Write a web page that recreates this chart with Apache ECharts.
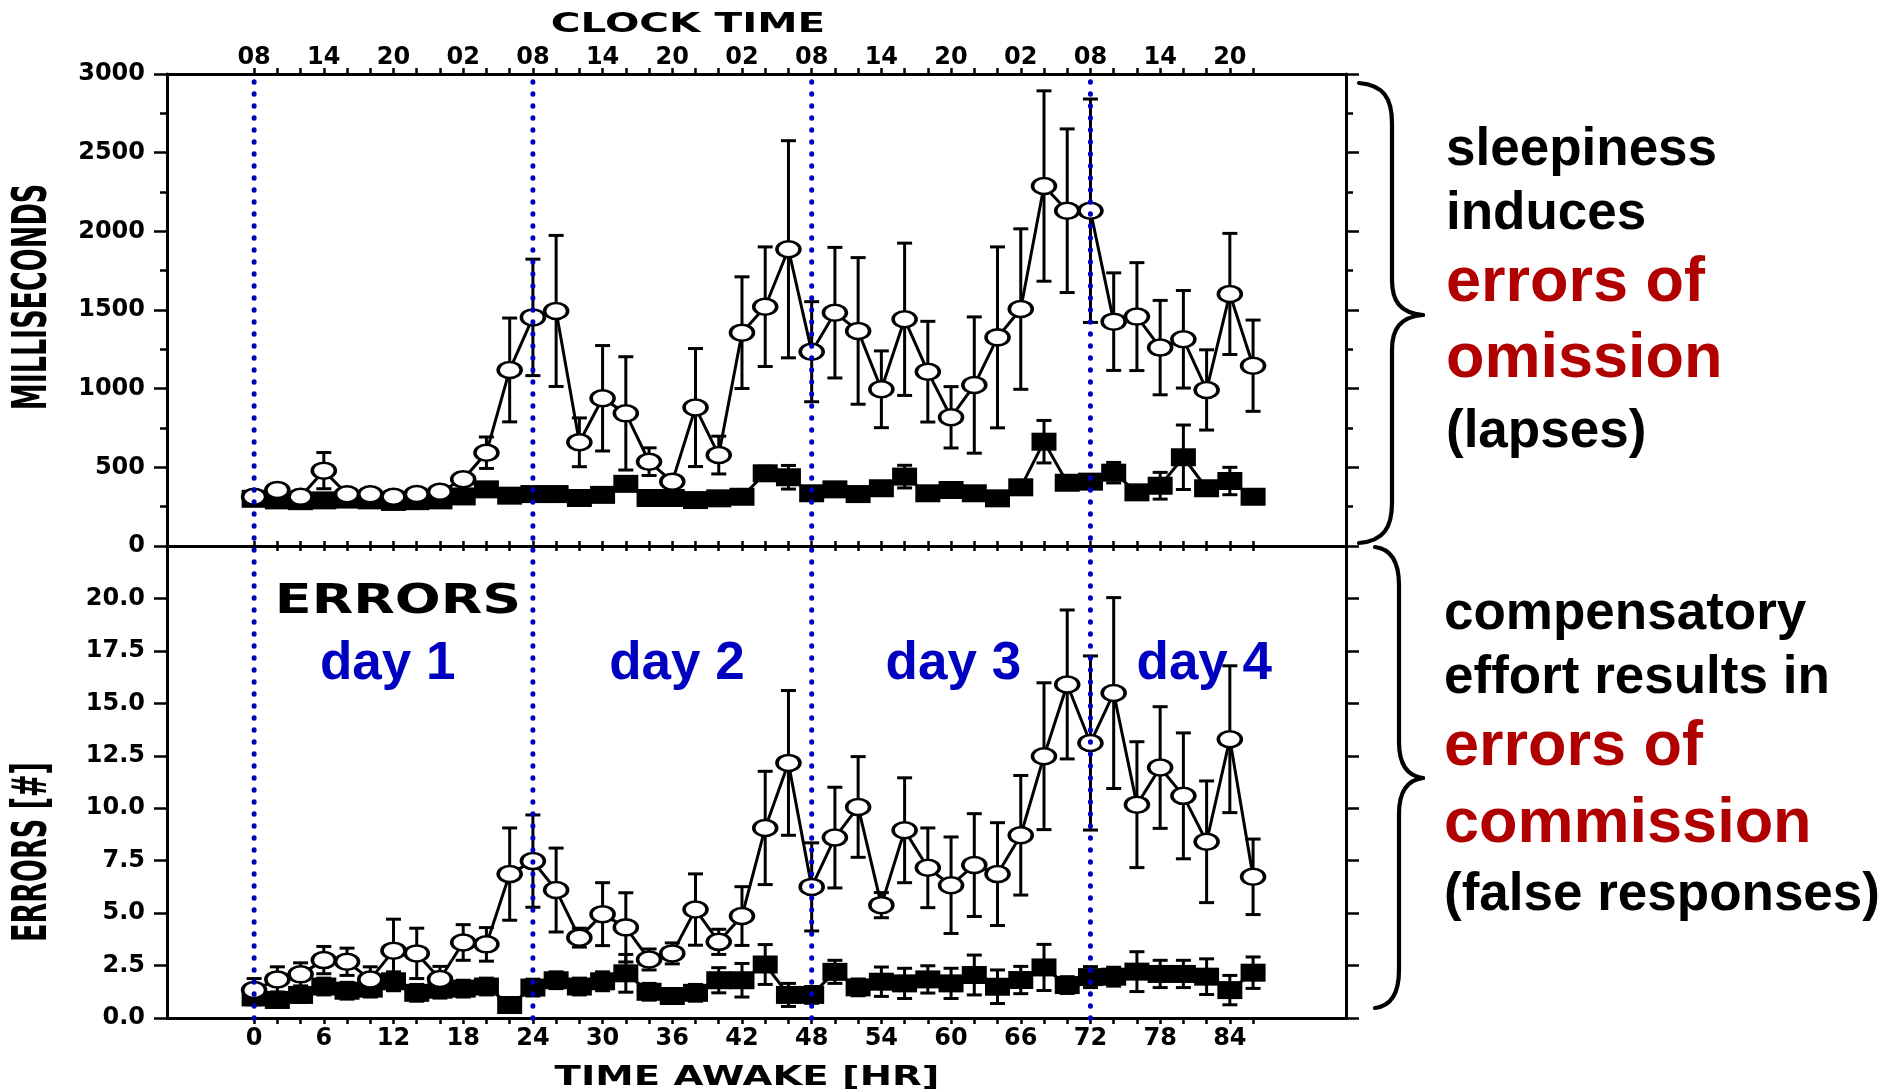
<!DOCTYPE html>
<html>
<head>
<meta charset="utf-8">
<script src="https://cdn.jsdelivr.net/npm/echarts@6/dist/echarts.min.js"></script>
<style>
  html, body { margin: 0; padding: 0; background: #ffffff; }
  #chart { width: 1884px; height: 1090px; }
</style>
</head>
<body>
<div id="chart"></div>
<script>
// Hours of continuous wakefulness at which each test was given
const hoursAwake = [0, 2, 4, 6, 8, 10, 12, 14, 16, 18, 20, 22, 24, 26, 28, 30, 32, 34, 36, 38, 40, 42,
                    44, 46, 48, 50, 52, 54, 56, 58, 60, 62, 64, 66, 68, 70, 72, 74, 76, 78, 80, 82, 84, 86];

// Bottom axis labels (hours awake) and top axis labels (clock time at those hours)
const awakeTickHours = [0, 6, 12, 18, 24, 30, 36, 42, 48, 54, 60, 66, 72, 78, 84];
const clockTickLabels = ['08', '14', '20', '02', '08', '14', '20', '02', '08', '14', '20', '02', '08', '14', '20'];
const minorTickHours = [0, 2, 4, 6, 8, 10, 12, 14, 16, 18, 20, 22, 24, 26, 28, 30, 32, 34, 36, 38, 40, 42,
                        44, 46, 48, 50, 52, 54, 56, 58, 60, 62, 64, 66, 68, 70, 72, 74, 76, 78, 80, 82, 84, 86];

// Upper panel (milliseconds): open circles and filled squares, mean and SEM
const openMs = [313, 356, 313, 479, 329, 329, 313, 330, 345, 424, 593, 1119, 1453, 1494, 659, 939, 843, 536,
                409, 880, 578, 1356, 1521, 1886, 1235, 1483, 1367, 996, 1441, 1108, 818, 1023, 1326, 1506,
                2288, 2131, 2131, 1426, 1458, 1261, 1314, 992, 1602, 1146];
const openMsSem = [30, 40, 30, 115, 30, 30, 30, 30, 30, 40, 100, 330, 370, 480, 155, 335, 360, 88,
                   40, 375, 120, 355, 380, 690, 318, 415, 466, 244, 484, 320, 195, 433, 575, 510,
                   605, 520, 710, 310, 343, 300, 310, 255, 385, 290];
const filledMs = [300, 290, 285, 290, 295, 290, 280, 285, 290, 315, 360, 320, 330, 330, 305, 325, 395, 305,
                  305, 292, 303, 313, 462, 437, 335, 360, 330, 367, 441, 335, 356, 335, 303, 373,
                  663, 402, 409, 466, 341, 383, 564, 367, 413, 313];
const filledMsSem = [25, 25, 25, 25, 25, 25, 25, 25, 25, 25, 35, 25, 25, 25, 25, 25, 30, 25,
                     25, 25, 25, 25, 45, 75, 25, 30, 25, 25, 72, 25, 25, 25, 25, 25,
                     135, 25, 30, 65, 25, 85, 205, 25, 87, 25];

// Lower panel (number of errors): open circles and filled squares, mean and SEM
const openErrors = [1.33, 1.84, 2.08, 2.76, 2.68, 1.84, 3.21, 3.08, 1.86, 3.60, 3.51, 6.86, 7.48, 6.10, 3.83,
                    4.95, 4.32, 2.79, 3.08, 5.17, 3.63, 4.86, 9.06, 12.16, 6.25, 8.60, 10.06, 5.38, 8.95,
                    7.16, 6.33, 7.29, 6.86, 8.71, 12.48, 15.90, 13.11, 15.49, 10.17, 11.94, 10.59, 8.40,
                    13.29, 6.73];
const openErrorsSem = [0.55, 0.6, 0.55, 0.65, 0.65, 0.6, 1.5, 1.2, 0.6, 0.85, 0.8, 2.2, 2.2, 2.0, 0.45,
                       1.5, 1.65, 0.5, 0.5, 1.7, 0.6, 1.4, 2.7, 3.45, 2.1, 2.4, 2.4, 0.6, 2.5,
                       1.9, 2.3, 2.45, 2.45, 2.85, 3.5, 3.55, 4.15, 4.55, 3.0, 2.9, 3.0, 2.9,
                       3.5, 1.8];
const filledErrors = [0.98, 0.86, 1.10, 1.50, 1.30, 1.40, 1.75, 1.20, 1.35, 1.40, 1.50, 0.62, 1.45, 1.80, 1.50,
                      1.75, 2.13, 1.25, 1.05, 1.20, 1.80, 1.80, 2.55, 1.10, 1.10, 2.20, 1.46, 1.73, 1.65,
                      1.84, 1.65, 2.05, 1.49, 1.81, 2.41, 1.57, 1.95, 1.97, 2.21, 2.10, 2.10, 1.97,
                      1.33, 2.16];
const filledErrorsSem = [0.35, 0.35, 0.35, 0.4, 0.4, 0.4, 0.45, 0.4, 0.4, 0.4, 0.4, 0.3, 0.4, 0.4, 0.4,
                         0.45, 0.9, 0.4, 0.35, 0.4, 0.6, 0.8, 0.95, 0.55, 0.4, 0.55, 0.4, 0.7, 0.72,
                         0.65, 0.72, 0.95, 0.8, 0.65, 1.1, 0.4, 0.5, 0.45, 0.95, 0.65, 0.65, 0.85,
                         0.7, 0.75];

// Day boundaries (08:00 each morning) and day captions
const dayBoundaryHours = [0, 24, 48, 72];
const dayCaptions = ['day 1', 'day 2', 'day 3', 'day 4'];
const dayCaptionHours = [11.5, 36.4, 60.2, 81.8];

const chart = echarts.init(document.getElementById('chart'), null, { renderer: 'canvas' });

const BLACK = '#000000';
const BLUE = '#0000c0';
const RED = '#b00000';
const tickFont = { fontFamily: 'DejaVu Sans', fontWeight: 'bold', fontSize: 24, color: BLACK };
const X_MIN = -7.5, X_MAX = 94;

function meanSemRows(mean, sem) {
  return hoursAwake.map((h, i) => [h, mean[i] - sem[i], mean[i] + sem[i]]);
}
function pairs(values) {
  return hoursAwake.map((h, i) => [h, values[i]]);
}

function errorBar(params, api) {
  const x = api.value(0);
  const lo = api.coord([x, api.value(1)]);
  const hi = api.coord([x, api.value(2)]);
  const half = 7.5;
  const style = { stroke: BLACK, lineWidth: 3 };
  return {
    type: 'group',
    children: [
      { type: 'line', shape: { x1: hi[0], y1: hi[1], x2: lo[0], y2: lo[1] }, style },
      { type: 'line', shape: { x1: hi[0] - half, y1: hi[1], x2: hi[0] + half, y2: hi[1] }, style },
      { type: 'line', shape: { x1: lo[0] - half, y1: lo[1], x2: lo[0] + half, y2: lo[1] }, style }
    ]
  };
}

function xAxisCfg(grid, position, tickLen, labelCfg) {
  return {
    type: 'value', gridIndex: grid, position: position, min: X_MIN, max: X_MAX,
    axisLine: { show: true, onZero: false, lineStyle: { color: BLACK, width: 3 } },
    axisTick: { show: true, inside: false, length: tickLen, customValues: minorTickHours,
                lineStyle: { color: BLACK, width: 2.5 } },
    axisLabel: labelCfg || { show: false },
    splitLine: { show: false }
  };
}

function yAxisCfg(grid, position, max, interval, withMinor, labelCfg) {
  return {
    type: 'value', gridIndex: grid, position: position, min: 0, max: max, interval: interval,
    axisLine: { show: true, onZero: false, lineStyle: { color: BLACK, width: 3 } },
    axisTick: { show: true, inside: false, length: 13, lineStyle: { color: BLACK, width: 2.5 } },
    minorTick: { show: withMinor, splitNumber: 2, length: 7, lineStyle: { color: BLACK, width: 2.5 } },
    axisLabel: labelCfg || { show: false },
    splitLine: { show: false },
    minorSplitLine: { show: false }
  };
}

function lineSeries(xi, yi, data, symbol, size, fill, z) {
  return {
    type: 'line', xAxisIndex: xi, yAxisIndex: yi, data: data, z: z,
    symbol: symbol, symbolSize: size, showSymbol: true, showAllSymbol: true,
    itemStyle: { color: fill, borderColor: BLACK, borderWidth: fill === BLACK ? 0 : 3 },
    lineStyle: { color: BLACK, width: 3 },
    emphasis: { disabled: true }, silent: true, animation: false
  };
}

function barsSeries(xi, yi, rows) {
  return {
    type: 'custom', xAxisIndex: xi, yAxisIndex: yi, data: rows, z: 2,
    renderItem: errorBar, encode: { x: 0, y: [1, 2] }, silent: true, animation: false
  };
}

const option = {
  backgroundColor: '#ffffff',
  animation: false,
  grid: [
    { left: 167, top: 74, width: 1179, height: 472, containLabel: false, outerBoundsMode: 'none' },
    { left: 167, top: 546, width: 1179, height: 472, containLabel: false, outerBoundsMode: 'none' }
  ],
  xAxis: [
    xAxisCfg(0, 'bottom', 5),
    xAxisCfg(0, 'top', 6, Object.assign({
      show: true, margin: 4, customValues: awakeTickHours,
      formatter: v => clockTickLabels[awakeTickHours.indexOf(v)] || ''
    }, tickFont)),
    xAxisCfg(1, 'bottom', 6, Object.assign({
      show: true, margin: 9, customValues: awakeTickHours,
      formatter: v => String(v)
    }, tickFont)),
    xAxisCfg(1, 'top', 5)
  ],
  yAxis: [
    yAxisCfg(0, 'left', 3000, 500, true, Object.assign({
      show: true, margin: 22, formatter: v => String(v)
    }, tickFont)),
    yAxisCfg(0, 'right', 3000, 500, true),
    yAxisCfg(1, 'left', 22.5, 2.5, false, Object.assign({
      show: true, margin: 22, formatter: v => (v > 22 ? '' : v.toFixed(1))
    }, tickFont)),
    yAxisCfg(1, 'right', 22.5, 2.5, false)
  ],
  series: [
    barsSeries(0, 0, meanSemRows(filledMs, filledMsSem)),
    barsSeries(0, 0, meanSemRows(openMs, openMsSem)),
    lineSeries(0, 0, pairs(filledMs), 'rect', [25, 18], BLACK, 3),
    lineSeries(0, 0, pairs(openMs), 'circle', [23, 16], '#ffffff', 4),
    barsSeries(2, 2, meanSemRows(filledErrors, filledErrorsSem)),
    barsSeries(2, 2, meanSemRows(openErrors, openErrorsSem)),
    lineSeries(2, 2, pairs(filledErrors), 'rect', [25, 18], BLACK, 3),
    lineSeries(2, 2, pairs(openErrors), 'circle', [23, 16], '#ffffff', 4)
  ]
};
chart.setOption(option);

// Annotations: titles, day markers, and the explanatory notes on the right
const graphics = [];
function addText(text, x, y, font, fill, extra) {
  graphics.push(Object.assign({
    type: 'text', x: x, y: y, z: 50, silent: true,
    style: { text: text, font: font, fill: fill, align: 'center', verticalAlign: 'middle' }
  }, extra || {}));
}
const heavy = s => 'bold ' + s + 'px "DejaVu Sans"';
const sans = s => 'bold ' + s + 'px "Liberation Sans", Arial, sans-serif';

addText('CLOCK TIME', 688, 25, heavy(27), BLACK, { scaleX: 1.5 });
addText('TIME AWAKE [HR]', 747, 1078, heavy(27), BLACK, { scaleX: 1.43 });
addText('ERRORS', 398, 603, heavy(40), BLACK, { scaleX: 1.35 });
addText('MILLISECONDS', 33, 297, heavy(27), BLACK, { rotation: Math.PI / 2, scaleY: 1.8 });
addText('ERRORS [#]', 33, 852, heavy(27), BLACK, { rotation: Math.PI / 2, scaleY: 1.8 });

// Dotted day boundaries spanning both panels
const yTop = chart.convertToPixel({ yAxisIndex: 0 }, 2950);
const yBottom = chart.convertToPixel({ yAxisIndex: 2 }, -0.55);
dayBoundaryHours.forEach(h => {
  const x = chart.convertToPixel({ xAxisIndex: 0 }, h);
  graphics.push({
    type: 'line', z: 100, silent: true,
    shape: { x1: x, y1: yTop, x2: x, y2: yBottom },
    style: { stroke: BLUE, lineWidth: 5, lineDash: [0.5, 11.5], lineCap: 'round' }
  });
});

// Day captions in the lower panel
const captionY = chart.convertToPixel({ yAxisIndex: 2 }, 16.2) - 14;
dayCaptions.forEach((label, i) => {
  const x = chart.convertToPixel({ xAxisIndex: 2 }, dayCaptionHours[i]);
  addText(label, x, captionY, sans(53), BLUE, { z: 1 });
});

// Notes on the right
const notes = [
  ['sleepiness', 150, 53, BLACK, 1446],
  ['induces', 214, 53, BLACK, 1446],
  ['errors of', 284, 63, RED, 1446],
  ['omission', 360, 63, RED, 1446],
  ['(lapses)', 432, 53, BLACK, 1446],
  ['compensatory', 614, 53, BLACK, 1444],
  ['effort results in', 678, 53, BLACK, 1444],
  ['errors of', 748, 63, RED, 1444],
  ['commission', 825, 63, RED, 1444],
  ['(false responses)', 895, 53, BLACK, 1444]
];
notes.forEach(n => {
  graphics.push({
    type: 'text', x: n[4], y: n[1], z: 50, silent: true,
    style: { text: n[0], font: sans(n[2]), fill: n[3], align: 'left', verticalAlign: 'middle' }
  });
});

// Curly brace built from bezier curves and straight segments
function brace(xEnd, xMid, xTip, yTop, yTip, yBot, r, r2) {
  const st = { stroke: BLACK, lineWidth: 4.2, fill: null, lineCap: 'round' };
  const curve = (x1, y1, c1x, c1y, c2x, c2y, x2, y2) => ({
    type: 'bezierCurve', z: 50, silent: true, style: st,
    shape: { x1: x1, y1: y1, cpx1: c1x, cpy1: c1y, cpx2: c2x, cpy2: c2y, x2: x2, y2: y2 }
  });
  const seg = (x1, y1, x2, y2) => ({
    type: 'line', z: 50, silent: true, style: st, shape: { x1: x1, y1: y1, x2: x2, y2: y2 }
  });
  return [
    curve(xEnd, yTop, xMid - 8, yTop + 2, xMid, yTop + r * 0.4, xMid, yTop + r),
    seg(xMid, yTop + r, xMid, yTip - r2),
    curve(xMid, yTip - r2, xMid, yTip - r2 * 0.4, xMid + 8, yTip - 2, xTip, yTip),
    curve(xTip, yTip, xMid + 8, yTip + 2, xMid, yTip + r2 * 0.4, xMid, yTip + r2),
    seg(xMid, yTip + r2, xMid, yBot - r),
    curve(xMid, yBot - r, xMid, yBot - r * 0.4, xMid - 8, yBot - 2, xEnd, yBot)
  ];
}
brace(1359, 1392, 1423, 83, 315, 543, 40, 35).forEach(e => graphics.push(e));
brace(1375, 1399, 1423, 547, 778, 1008, 38, 36).forEach(e => graphics.push(e));

chart.setOption({ graphic: { elements: graphics } });
</script>
</body>
</html>
